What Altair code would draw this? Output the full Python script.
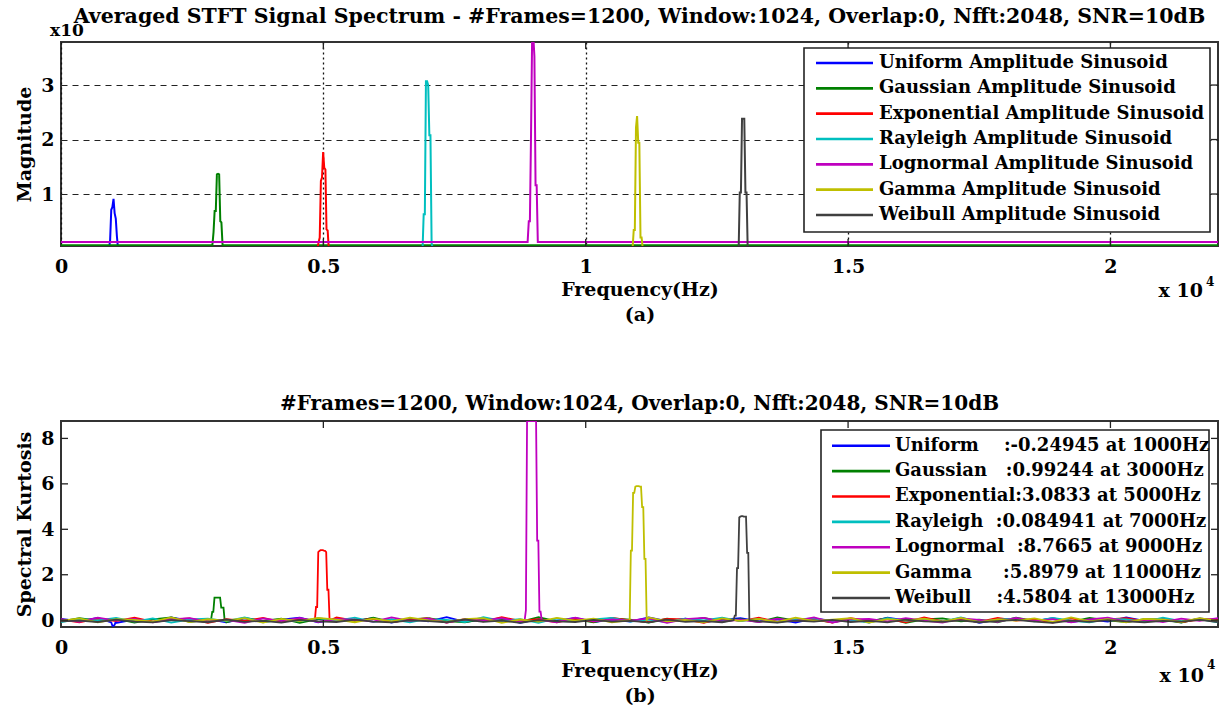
import altair as alt
import pandas as pd
import numpy as np

FONT = "DejaVu Serif"
F_MAX = 22050

COLORS = ["#0000FF", "#008000", "#FF0000", "#00BFBF", "#BF00BF", "#BFBF00", "#404040"]

TOP_NAMES = ["Uniform Amplitude Sinusoid", "Gaussian Amplitude Sinusoid",
             "Exponential Amplitude Sinusoid", "Rayleigh Amplitude Sinusoid",
             "Lognormal Amplitude Sinusoid", "Gamma Amplitude Sinusoid",
             "Weibull Amplitude Sinusoid"]
BOT_NAMES_RAW = ["Uniform    :-0.24945 at 1000Hz", "Gaussian   :0.99244 at 3000Hz",
                 "Exponential:3.0833 at 5000Hz", "Rayleigh  :0.084941 at 7000Hz",
                 "Lognormal  :8.7665 at 9000Hz", "Gamma     :5.8979 at 11000Hz",
                 "Weibull    :4.5804 at 13000Hz"]
BOT_NAMES = [s.replace(" ", "\u00a0") for s in BOT_NAMES_RAW]

X_TICKS = [0, 5000, 10000, 15000, 20000]
TOP_Y_TICKS = [1, 2, 3]
BOT_Y_TICKS = [0, 2, 4, 6, 8]

TITLE_TOP = "Averaged STFT Signal Spectrum - #Frames=1200, Window:1024, Overlap:0, Nfft:2048, SNR=10dB"
TITLE_BOT = "#Frames=1200, Window:1024, Overlap:0, Nfft:2048, SNR=10dB"

# ---- top panel: averaged spectrum ----
TOP_FLOOR = [0.0, 0.06, 0.0, 0.0, 0.118, 0.0, 0.0]
TOP_PEAK_F = [
    [915, 936, 958, 979, 1001, 1022, 1044, 1065, 1087],
    [2885, 2907, 2928, 2950, 2971, 2993, 3014, 3036, 3057, 3079],
    [4888, 4910, 4931, 4953, 4974, 4996, 5017, 5039, 5060, 5082, 5103],
    [6891, 6912, 6934, 6955, 6977, 6998, 7020, 7041, 7063, 7084],
    [8893, 8915, 8936, 8958, 8979, 9001, 9022, 9044, 9065, 9087],
    [10893, 10915, 10936, 10958, 10979, 11001, 11022, 11044, 11065, 11087],
    [12915, 12936, 12958, 12979, 13001, 13022, 13044, 13065, 13087],
]
TOP_PEAK_V = [
    [0.0, 0.15, 0.71, 0.76, 0.91, 0.65, 0.55, 0.23, 0.0],
    [0.06, 0.3, 0.69, 0.69, 1.36, 1.37, 1.36, 0.5, 0.48, 0.06],
    [0.0, 0.12, 0.2, 1.24, 1.3, 1.77, 1.48, 1.45, 0.35, 0.33, 0.0],
    [0.0, 0.63, 0.63, 3.07, 3.07, 3.0, 2.08, 2.08, 0.1, 0.0],
    [0.118, 0.5, 0.5, 2.1, 3.9, 3.9, 3.53, 1.16, 1.16, 0.118],
    [0.0, 0.34, 0.34, 2.22, 2.43, 1.94, 1.94, 0.2, 0.2, 0.0],
    [0.0, 1.03, 1.03, 2.38, 2.38, 2.38, 1.03, 1.03, 0.0],
]

# ---- bottom panel: spectral kurtosis ----
BOT_NOISE = [
    [0.06,-0.04,0.1,-0.12,0.03,-0.08,0.12,-0.02,0.05,-0.1,0.08,-0.06,0.02,0.11,-0.09,0.04,-0.03,0.09,-0.11,0.06,-0.05,0.13,-0.07,0.01,0.08,-0.12,0.05,-0.02,0.1,-0.08,0.03,-0.06,0.12,-0.04,0.07,-0.1,0.02,0.09,-0.05,0.04,-0.11,0.08,-0.03,0.06,-0.09,0.11,-0.01,0.05,-0.07,0.1,-0.12,0.03,0.07,-0.04,0.09,-0.08,0.02,-0.06,0.12,-0.03,0.05,-0.1,0.08,-0.02],
    [-0.05,0.09,-0.02,0.06,-0.11,0.04,0.12,-0.07,0.01,-0.09,0.1,-0.03,0.07,-0.12,0.05,0.02,-0.06,0.11,-0.08,0.03,0.09,-0.04,-0.1,0.06,0.01,-0.07,0.13,-0.05,0.04,-0.09,0.08,0.02,-0.11,0.07,-0.03,0.1,-0.06,0.05,-0.08,0.12,-0.02,0.03,-0.1,0.06,-0.04,0.09,-0.12,0.04,0.08,-0.05,0.02,-0.09,0.11,-0.03,0.06,-0.07,0.1,-0.01,-0.08,0.05,0.03,-0.11,0.07,-0.04],
    [0.03,-0.09,0.07,-0.04,0.11,-0.06,0.02,0.08,-0.12,0.05,-0.03,0.1,-0.07,0.04,-0.1,0.12,-0.02,0.06,-0.08,0.01,0.09,-0.11,0.05,-0.05,0.13,-0.03,0.04,-0.09,0.07,-0.06,0.1,-0.01,-0.08,0.06,0.03,-0.12,0.08,-0.04,0.11,-0.07,0.02,0.05,-0.1,0.09,-0.03,0.06,-0.09,0.12,-0.05,0.01,-0.07,0.1,-0.02,0.04,-0.11,0.08,-0.06,0.03,0.09,-0.04,0.07,-0.08,0.02,0.05],
    [-0.08,0.05,-0.01,0.1,-0.06,0.08,-0.11,0.03,0.07,-0.04,0.12,-0.09,0.02,-0.05,0.09,-0.02,0.11,-0.07,0.04,-0.1,0.06,0.01,-0.08,0.13,-0.03,0.05,-0.12,0.08,-0.05,0.03,0.1,-0.06,0.02,-0.09,0.07,-0.01,0.11,-0.04,0.06,-0.1,0.04,0.08,-0.07,0.01,-0.11,0.09,-0.03,0.05,-0.06,0.12,-0.08,0.02,0.07,-0.05,0.1,-0.02,-0.09,0.06,0.03,-0.07,0.11,-0.04,0.05,-0.1],
    [0.04,-0.07,0.11,-0.02,0.06,-0.1,0.03,0.09,-0.05,0.01,-0.12,0.08,-0.04,0.1,-0.08,0.05,0.02,-0.06,0.12,-0.03,0.07,-0.11,0.04,-0.01,0.09,-0.07,0.06,-0.09,0.11,-0.05,0.03,-0.02,0.08,-0.12,0.05,0.1,-0.06,0.02,-0.08,0.07,-0.03,0.12,-0.1,0.04,0.06,-0.05,0.09,-0.02,-0.11,0.08,0.01,-0.07,0.1,-0.04,0.05,-0.09,0.03,0.11,-0.06,0.02,-0.08,0.07,-0.03,0.09],
    [-0.03,0.08,-0.1,0.05,0.01,-0.06,0.12,-0.08,0.04,-0.02,0.09,-0.11,0.06,-0.04,0.1,0.02,-0.09,0.07,-0.05,0.11,-0.01,-0.07,0.05,0.09,-0.12,0.03,-0.06,0.1,-0.02,0.07,-0.09,0.04,0.12,-0.05,0.01,-0.1,0.08,-0.03,0.06,-0.08,0.11,-0.04,0.02,0.09,-0.11,0.05,-0.01,0.07,-0.06,0.1,-0.09,0.03,-0.02,0.08,-0.07,0.12,-0.05,0.04,-0.1,0.06,0.02,-0.08,0.09,-0.03],
    [-0.05,-0.02,-0.08,0.02,-0.06,-0.1,0.0,-0.04,-0.09,0.03,-0.07,-0.03,-0.11,0.01,-0.05,-0.08,0.02,-0.06,-0.1,-0.01,-0.04,-0.09,0.03,-0.07,-0.02,-0.12,0.0,-0.05,-0.08,0.01,-0.06,-0.03,-0.1,0.02,-0.07,-0.04,-0.09,0.0,-0.05,-0.11,-0.02,-0.06,0.01,-0.08,-0.03,-0.1,0.02,-0.05,-0.07,-0.01,-0.09,-0.04,0.01,-0.06,-0.12,-0.02,-0.07,0.0,-0.05,-0.09,-0.03,-0.06,0.01,-0.08],
]
BOT_PEAK_F = [
    [958, 980, 1001, 1023, 1044],
    [2860, 2882, 2903, 2925, 2946, 2968, 2989, 3011, 3032, 3054, 3075, 3097, 3118],
    [4838, 4860, 4882, 4903, 4925, 4946, 4968, 4989, 5011, 5032, 5054, 5075, 5097, 5118, 5140],
    [6980, 7001, 7023],
    [8838, 8860, 8882, 8903, 8925, 8946, 8968, 8989, 9011, 9032, 9054, 9075, 9097, 9118, 9140, 9162],
    [10838, 10860, 10882, 10903, 10925, 10946, 10968, 10989, 11011, 11032, 11054, 11075, 11097, 11118, 11140, 11162],
    [12818, 12840, 12861, 12883, 12904, 12926, 12947, 12969, 12990, 13012, 13033, 13055, 13076, 13098, 13119],
]
BOT_PEAK_V = [
    [-0.1, -0.25, -0.25, -0.2, -0.05],
    [0.02, 0.37, 0.37, 0.99, 0.99, 0.99, 0.99, 0.99, 0.99, 0.55, 0.55, 0.55, 0.0],
    [0.0, 0.58, 0.58, 3.0, 3.05, 3.08, 3.08, 3.08, 3.06, 3.05, 3.0, 1.34, 1.34, 0.05, 0.0],
    [0.06, 0.085, 0.04],
    [0.02, 0.44, 8.7665, 8.7665, 8.7665, 8.7665, 8.7665, 8.7665, 8.7665, 8.7665, 8.7665, 3.5, 3.5, 0.38, 0.38, 0.0],
    [0.0, 3.06, 3.06, 5.6, 5.6, 5.88, 5.9, 5.9, 5.9, 5.88, 5.88, 4.98, 4.98, 2.7, 2.7, 0.0],
    [0.0, 0.2, 0.2, 2.29, 2.29, 4.52, 4.56, 4.58, 4.58, 4.56, 4.56, 4.56, 2.96, 2.96, 0.0],
]

# ---------------- build tables ----------------
rows = []
for i, name in enumerate(TOP_NAMES):
    fs = [0] + TOP_PEAK_F[i] + [F_MAX]
    vs = [TOP_FLOOR[i]] + TOP_PEAK_V[i] + [TOP_FLOOR[i]]
    for k, (f, v) in enumerate(zip(fs, vs)):
        rows.append({"freq": f, "mag": v, "series": name, "idx": i * 1000 + k})
top_df = pd.DataFrame(rows)

rows = []
for i, name in enumerate(BOT_NAMES):
    noise = BOT_NOISE[i]
    grid = np.linspace(0, F_MAX, len(noise))
    lo, hi = min(BOT_PEAK_F[i]), max(BOT_PEAK_F[i])
    pts = [(float(f), v) for f, v in zip(grid, noise) if f < lo or f > hi]
    pts += list(zip(BOT_PEAK_F[i], BOT_PEAK_V[i]))
    pts.sort()
    for k, (f, v) in enumerate(pts):
        rows.append({"freq": f, "sk": v, "series": name, "idx": i * 1000 + k})
bot_df = pd.DataFrame(rows)

top_leg_df = pd.DataFrame({"name": TOP_NAMES, "col": COLORS, "k": list(range(7))})
bot_leg_df = pd.DataFrame({"name": BOT_NAMES, "col": COLORS, "k": list(range(7))})
one = pd.DataFrame({"t": [""]})

W = 1157
H_TOP = 204
H_BOT = 206
TICK = 7
FS = 19
LFS = 18

XSCALE = alt.Scale(domain=[0, F_MAX], nice=False, zero=False)


def x_axis(title, grid):
    return alt.Axis(values=X_TICKS, labelExpr="datum.value / 10000", title=title,
                    grid=grid, gridDash=[2, 3], gridColor="#111", gridWidth=1.3,
                    labelFlush=False, labelPadding=11, titlePadding=4,
                    titleLineHeight=25)


def text_layer(txt, x, y, size, align):
    return alt.Chart(pd.DataFrame({"t": [txt]})).mark_text(
        font=FONT, fontSize=size, fontWeight="bold", color="black",
        align=align, baseline="alphabetic").encode(
        text="t:N", x=alt.value(x), y=alt.value(y))


def legend_layers(df, box, row_range, line_x, text_x):
    x0, x1, y0, y1 = box
    rect = alt.Chart(one).mark_rect(fill="white", stroke="#222", strokeWidth=1.6).encode(
        x=alt.value(x0), x2=alt.value(x1), y=alt.value(y0), y2=alt.value(y1))
    kscale = alt.Scale(domain=[0, 6], range=row_range)
    rules = alt.Chart(df).mark_rule(strokeWidth=2.6).encode(
        x=alt.value(line_x[0]), x2=alt.value(line_x[1]),
        y=alt.Y("k:Q", scale=kscale, axis=None),
        stroke=alt.Stroke("col:N", scale=None))
    texts = alt.Chart(df).mark_text(
        font=FONT, fontSize=LFS, fontWeight="bold", color="black",
        align="left", baseline="middle").encode(
        x=alt.value(text_x), y=alt.Y("k:Q", scale=kscale, axis=None), text="name:N")
    return [rect, rules, texts]


# ---------------- top panel ----------------
XAX_TOP = x_axis(["Frequency(Hz)", "(a)"], True)
ytop_scale = alt.Scale(domain=[0.046, 3.79], nice=False, zero=False)
top_lines = alt.Chart(top_df).mark_line(clip=True, strokeWidth=2).encode(
    x=alt.X("freq:Q", scale=XSCALE, axis=XAX_TOP),
    y=alt.Y("mag:Q", scale=ytop_scale,
            axis=alt.Axis(values=TOP_Y_TICKS, title="Magnitude", grid=True,
                          gridDash=[6, 5], gridColor="#222", gridWidth=1.2,
                          labelPadding=7, titlePadding=6)),
    color=alt.Color("series:N", scale=alt.Scale(domain=TOP_NAMES, range=COLORS),
                    legend=None),
    order="idx:Q",
)
xt_top = pd.DataFrame({"freq": X_TICKS[1:]})
yt_top = pd.DataFrame({"mag": TOP_Y_TICKS})
top_ticks = [
    alt.Chart(xt_top).mark_rule(color="#222", strokeWidth=1.3).encode(
        x=alt.X("freq:Q", scale=XSCALE, axis=XAX_TOP),
        y=alt.value(0), y2=alt.value(TICK)),
    alt.Chart(xt_top).mark_rule(color="#222", strokeWidth=1.3).encode(
        x=alt.X("freq:Q", scale=XSCALE, axis=XAX_TOP),
        y=alt.value(H_TOP), y2=alt.value(H_TOP - TICK)),
    alt.Chart(yt_top).mark_rule(color="#222", strokeWidth=1.3).encode(
        y=alt.Y("mag:Q", scale=ytop_scale, axis=None),
        x=alt.value(W), x2=alt.value(W - TICK)),
]
top = alt.layer(
    top_lines, *top_ticks,
    *legend_layers(top_leg_df, (743, 1149, 6, 190), [21, 173], (755, 812), 818),
    text_layer("x10", -11, -6, 17, "left"),
    text_layer("x 10", 1142, H_TOP + 51, FS, "right"),
    text_layer("4", 1145, H_TOP + 40, 12, "left"),
).resolve_scale(y="independent").properties(
    width=W, height=H_TOP,
    title=alt.TitleParams(TITLE_TOP, font=FONT, fontSize=20.5, fontWeight="bold",
                          anchor="middle", offset=0, dy=5, color="black"))

# ---------------- bottom panel ----------------
XAX_BOT = x_axis(["Frequency(Hz)", "(b)"], False)
ybot_scale = alt.Scale(domain=[-0.3, 8.7665], nice=False, zero=False)
bot_lines = alt.Chart(bot_df).mark_line(clip=True, strokeWidth=1.8).encode(
    x=alt.X("freq:Q", scale=XSCALE, axis=XAX_BOT),
    y=alt.Y("sk:Q", scale=ybot_scale,
            axis=alt.Axis(values=BOT_Y_TICKS, title="Spectral Kurtosis", grid=False,
                          labelPadding=7, titlePadding=6)),
    color=alt.Color("series:N", scale=alt.Scale(domain=BOT_NAMES, range=COLORS),
                    legend=None),
    order="idx:Q",
)
xt_bot = pd.DataFrame({"freq": X_TICKS[1:]})
yt_bot = pd.DataFrame({"sk": BOT_Y_TICKS})
bot_ticks = [
    alt.Chart(xt_bot).mark_rule(color="#222", strokeWidth=1.3).encode(
        x=alt.X("freq:Q", scale=XSCALE, axis=XAX_BOT),
        y=alt.value(0), y2=alt.value(TICK)),
    alt.Chart(xt_bot).mark_rule(color="#222", strokeWidth=1.3).encode(
        x=alt.X("freq:Q", scale=XSCALE, axis=XAX_BOT),
        y=alt.value(H_BOT), y2=alt.value(H_BOT - TICK)),
    alt.Chart(yt_bot).mark_rule(color="#222", strokeWidth=1.3).encode(
        y=alt.Y("sk:Q", scale=ybot_scale, axis=None),
        x=alt.value(W), x2=alt.value(W - TICK)),
    alt.Chart(yt_bot).mark_rule(color="#222", strokeWidth=1.3).encode(
        y=alt.Y("sk:Q", scale=ybot_scale, axis=None),
        x=alt.value(0), x2=alt.value(TICK)),
]
bottom = alt.layer(
    bot_lines, *bot_ticks,
    *legend_layers(bot_leg_df, (760, 1148, 9, 191), [24.7, 177], (771, 829), 834),
    text_layer("x 10", 1143, H_BOT + 55, FS, "right"),
    text_layer("4", 1146, H_BOT + 42, 12, "left"),
).resolve_scale(y="independent").properties(
    width=W, height=H_BOT,
    title=alt.TitleParams(TITLE_BOT, font=FONT, fontSize=20, fontWeight="bold",
                          anchor="middle", offset=6, color="black"))

chart = alt.vconcat(top, bottom, spacing=68).resolve_scale(
    color="independent"
).properties(
    padding={"left": 14, "top": 5, "right": 4, "bottom": 4},
    background="white",
).configure_view(
    stroke="#333", strokeWidth=2
).configure_axis(
    labelFont=FONT, labelFontSize=FS, labelFontWeight="bold", labelColor="black",
    titleFont=FONT, titleFontSize=FS, titleFontWeight="bold", titleColor="black",
    domain=False, ticks=False, labelOverlap=False,
)

chart.save("out.html", embed_options={"renderer": "svg", "actions": False})
